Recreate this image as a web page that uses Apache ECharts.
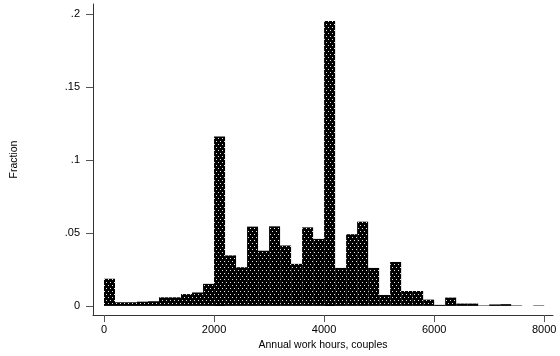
<!DOCTYPE html>
<html>
<head>
<meta charset="utf-8">
<script src="https://cdn.jsdelivr.net/npm/echarts@6/dist/echarts.min.js"></script>
<style>
  html, body { margin: 0; padding: 0; background: #fff; }
  #main { width: 560px; height: 356px; }
</style>
</head>
<body>
<div id="main"></div>
<script>
// histogram bins, width 200 hours
var binStarts = [0, 200, 400, 600, 800, 1000, 1200, 1400, 1600, 1800,
                 2000, 2200, 2400, 2600, 2800, 3000, 3200, 3400, 3600, 3800,
                 4000, 4200, 4400, 4600, 4800, 5000, 5200, 5400, 5600, 5800,
                 6000, 6200, 6400, 6600, 6800, 7000, 7200, 7400, 7600, 7800];
var binWidth = 200;
var fractions = [0.0186, 0.0025, 0.0025, 0.0029, 0.0032, 0.0059, 0.0059, 0.0081, 0.0092, 0.0151,
                 0.1160, 0.0346, 0.0265, 0.0543, 0.0378, 0.0545, 0.0414, 0.0288, 0.0538, 0.0459,
                 0.1952, 0.0260, 0.0491, 0.0577, 0.0260, 0.0075, 0.0301, 0.0102, 0.0102, 0.0043,
                 0.0007, 0.0057, 0.0016, 0.0016, 0.0003, 0.0010, 0.0012, 0.0003, 0, 0.0003];
var xTicks = [0, 2000, 4000, 6000, 8000];
var yTicks = [0, 0.05, 0.1, 0.15, 0.2];

var barData = binStarts.map(function (s, i) {
	return [s + binWidth / 2, fractions[i]];
});

var font = 'Liberation Sans, Arial, sans-serif';

var option = {
	animation: false,
	backgroundColor: '#fff',
	grid: {
		left: 93,
		right: 7,
		top: 4,
		bottom: 39
	},
	xAxis: {
		type: 'value',
		min: -200,
		max: 8160,
		name: 'Annual work hours, couples',
		nameLocation: 'middle',
		nameGap: 24,
		nameTextStyle: { color: '#000', fontSize: 10.5, fontFamily: font },
		axisLine: { show: true, onZero: false, lineStyle: { color: '#333', width: 1 } },
		axisTick: { show: true, length: 7, customValues: xTicks, lineStyle: { color: '#555' } },
		axisLabel: {
			customValues: xTicks,
			margin: 9,
			color: '#000',
			fontSize: 11,
			fontFamily: font,
			formatter: function (v) { return String(v); }
		},
		splitLine: { show: false }
	},
	yAxis: {
		type: 'value',
		min: -0.0063,
		max: 0.2068,
		name: 'Fraction',
		nameLocation: 'middle',
		nameGap: 73,
		nameTextStyle: { color: '#000', fontSize: 10.5, fontFamily: font },
		axisLine: { show: true, onZero: false, lineStyle: { color: '#333', width: 1 } },
		axisTick: { show: true, length: 7, customValues: yTicks, lineStyle: { color: '#555' } },
		axisLabel: {
			customValues: yTicks,
			margin: 13,
			color: '#000',
			fontSize: 11,
			fontFamily: font,
			formatter: function (v) {
				return v === 0 ? '0' : String(v).replace(/^0/, '');
			}
		},
		splitLine: { show: false }
	},
	series: [
		{
			type: 'bar',
			data: barData,
			barWidth: '100%',
			itemStyle: {
				color: '#000',
				decal: {
					symbol: 'rect',
					symbolSize: 1,
					color: '#e6e6e6',
					dashArrayX: [[1, 3], [0, 2, 1, 1]],
					dashArrayY: [1, 2]
				}
			}
		}
	]
};

var chart = echarts.init(document.getElementById('main'));
chart.setOption(option);
</script>
</body>
</html>
